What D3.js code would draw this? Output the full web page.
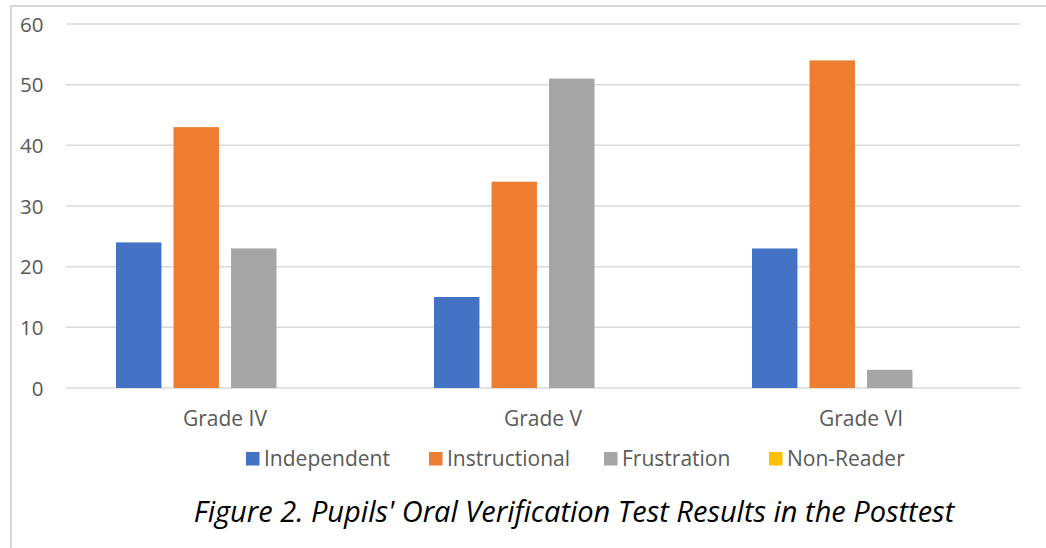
<!DOCTYPE html>
<html><head><meta charset="utf-8">
<script src="https://cdn.jsdelivr.net/npm/d3@7"></script>
<style>body{margin:0;background:#fff}svg{display:block}</style>
</head><body>
<svg id="c" width="1046" height="548"></svg>
<script>
const categories = ["Grade IV", "Grade V", "Grade VI"];
const seriesNames = ["Independent", "Instructional", "Frustration", "Non-Reader"];
const independent = [24, 15, 23];
const instructional = [43, 34, 54];
const frustration = [23, 51, 3];
const nonReader = [0, 0, 0];
const yTicks = [0, 10, 20, 30, 40, 50, 60];
const colors = ["#4472C4", "#ED7D31", "#A5A5A5", "#FFC000"];
const titleText = "Figure 2. Pupils' Oral Verification Test Results in the Posttest";

const series = [independent, instructional, frustration, nonReader];
const svg = d3.select("#c");
const font = "'Open Sans', 'Noto Sans', sans-serif";

// frame
svg.append("rect").attr("x", 11).attr("y", 6).attr("width", 1100).attr("height", 600)
  .attr("fill", "none").attr("stroke", "#D9D9D9").attr("stroke-width", 2);

const plot = {left: 66, right: 1020, top: 24, bottom: 388};
const y = d3.scaleLinear().domain([0, 60]).range([plot.bottom, plot.top]);
const x0 = d3.scaleBand().domain(categories).range([plot.left, plot.right]).padding(0);
const x1 = d3.scaleBand().domain(seriesNames).range([50, x0.bandwidth() - 50]).paddingInner(0.21).paddingOuter(0);

// gridlines
svg.append("g").selectAll("line").data(yTicks).join("line")
  .attr("x1", plot.left).attr("x2", plot.right)
  .attr("y1", d => y(d)).attr("y2", d => y(d))
  .attr("stroke", "#D9D9D9").attr("stroke-width", 1.5);

// y labels
svg.append("g").selectAll("text").data(yTicks).join("text")
  .attr("x", 43.5).attr("y", d => y(d) + 7.5)
  .attr("text-anchor", "end").attr("fill", "#595959")
  .attr("font-family", font).attr("font-size", 20.5).text(d => d);

// bars
const g = svg.append("g");
categories.forEach((c, i) => {
  series.forEach((s, j) => {
    const v = s[i];
    if (v <= 0) return;
    g.append("rect")
      .attr("x", x0(c) + x1(seriesNames[j]))
      .attr("y", y(v))
      .attr("width", x1.bandwidth())
      .attr("height", y(0) - y(v))
      .attr("fill", colors[j]);
  });
});

// category labels
svg.append("g").selectAll("text").data(categories).join("text")
  .attr("x", d => x0(d) + x0.bandwidth() / 2).attr("y", 426)
  .attr("text-anchor", "middle").attr("fill", "#595959")
  .attr("font-family", font).attr("font-size", 21).text(d => d);

// legend
const legendX = [246, 429, 604, 769];
const lg = svg.append("g");
seriesNames.forEach((n, j) => {
  lg.append("rect").attr("x", legendX[j]).attr("y", 452).attr("width", 13.5).attr("height", 13.5).attr("fill", colors[j]);
  lg.append("text").attr("x", legendX[j] + 18).attr("y", 466)
    .attr("fill", "#595959").attr("font-family", font).attr("font-size", 21).text(n);
});

// title
svg.append("text").attr("x", 574).attr("y", 522)
  .attr("text-anchor", "middle").attr("font-style", "italic").attr("fill", "#000")
  .attr("font-family", font).attr("font-size", 29).text(titleText);
</script>
</body></html>
